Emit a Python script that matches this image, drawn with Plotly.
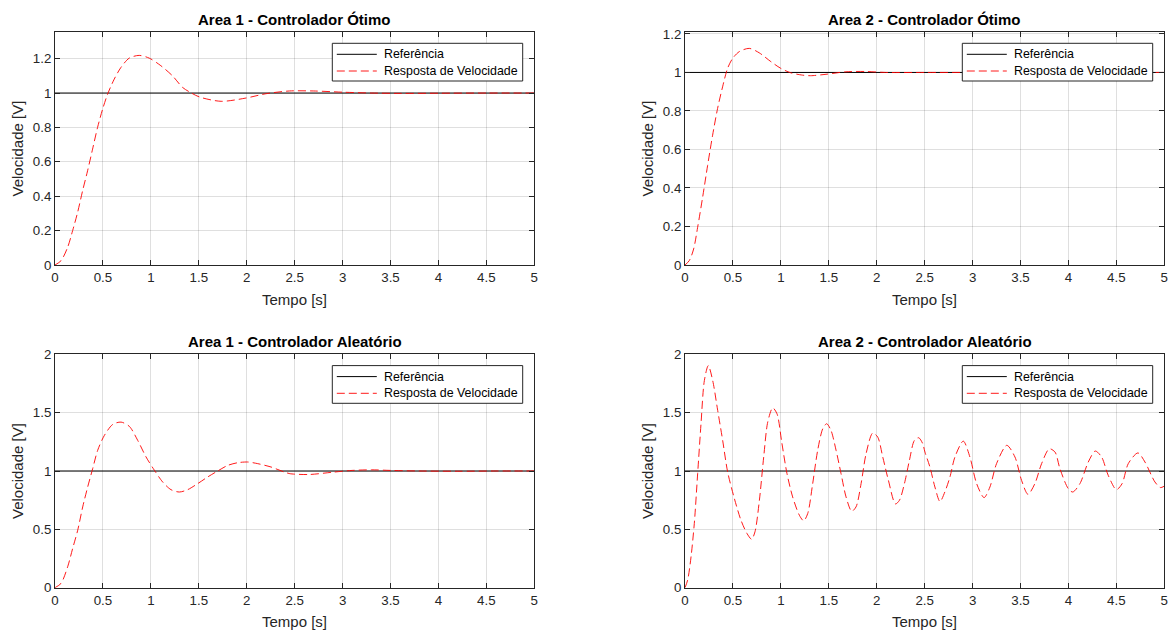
import plotly.graph_objects as go

# ---------------- data ----------------
# Step reference (constant 1 V)
ref_t = [0, 5]
ref_v = [1, 1]

# Area 1 - optimal controller
a1_opt_t = [0, 0.063, 0.132, 0.184, 0.236, 0.288, 0.34, 0.392, 0.444, 0.497, 0.549,
            0.618, 0.688, 0.774, 0.878, 0.983, 1.104, 1.226, 1.33, 1.404, 1.508,
            1.733, 1.993, 2.2, 2.444, 2.7, 3.0, 3.3, 3.6, 4.0, 4.5, 5.0]
a1_opt_v = [0, 0.025, 0.103, 0.2, 0.306, 0.432, 0.548, 0.674, 0.8, 0.907, 0.994,
            1.081, 1.149, 1.203, 1.219, 1.203, 1.159, 1.1, 1.033, 1.006, 0.977,
            0.952, 0.971, 0.996, 1.012, 1.012, 1.005, 1.0, 0.998, 0.999, 1.0, 1.0]

# Area 2 - optimal controller
a2_opt_t = [0, 0.045, 0.09, 0.132, 0.184, 0.236, 0.288, 0.34, 0.392, 0.444, 0.497,
            0.566, 0.67, 0.774, 0.896, 1.0, 1.104, 1.226, 1.31, 1.483, 1.67, 1.88,
            2.09, 2.5, 3.0, 3.5, 4.0, 4.5, 5.0]
a2_opt_v = [0, 0.023, 0.083, 0.196, 0.352, 0.517, 0.674, 0.813, 0.925, 1.021, 1.073,
            1.108, 1.125, 1.102, 1.056, 1.021, 0.998, 0.986, 0.983, 0.991, 1.003, 1.005,
            1.0, 1.0, 1.0, 1.0, 1.0, 1.0, 1.0]

# Area 1 - random controller
a1_rnd_t = [0, 0.063, 0.132, 0.184, 0.237, 0.289, 0.341, 0.393, 0.445, 0.515, 0.602,
            0.689, 0.776, 0.863, 0.95, 1.037, 1.123, 1.21, 1.297, 1.384, 1.489, 1.593,
            1.697, 1.802, 1.906, 2.01, 2.115, 2.254, 2.393, 2.45, 2.65, 2.9, 3.1, 3.3,
            3.5, 3.8, 4.2, 4.6, 5.0]
a1_rnd_v = [0, 0.037, 0.179, 0.336, 0.493, 0.692, 0.863, 1.02, 1.177, 1.305, 1.399,
            1.419, 1.382, 1.262, 1.12, 1.006, 0.906, 0.84, 0.82, 0.84, 0.892, 0.949,
            1.0, 1.048, 1.071, 1.077, 1.063, 1.034, 0.991, 0.977, 0.97, 0.99, 1.005, 1.01,
            1.005, 1.0, 0.998, 1.0, 1.0]

# Area 2 - random controller
a2_rnd_t = [0, 0.028, 0.063, 0.097, 0.132, 0.167, 0.202, 0.243, 0.289, 0.341, 0.393,
            0.445, 0.515, 0.584, 0.647, 0.695, 0.73, 0.776, 0.821, 0.863, 0.915, 0.96,
            1.009, 1.064, 1.123, 1.193, 1.238, 1.28, 1.332, 1.384, 1.437, 1.478, 1.523,
            1.576, 1.628, 1.68, 1.739, 1.784, 1.837, 1.889, 1.958, 2.01, 2.063, 2.122,
            2.195, 2.237, 2.289, 2.341, 2.393, 2.438, 2.48, 2.503, 2.555, 2.607, 2.66,
            2.711, 2.764, 2.816, 2.903, 2.972, 3.042, 3.12, 3.181, 3.25, 3.357, 3.442,
            3.511, 3.578, 3.65, 3.72, 3.8, 3.86, 3.911, 3.998, 4.045, 4.12, 4.207, 4.28,
            4.346, 4.415, 4.5, 4.56, 4.624, 4.725, 4.798, 4.902, 4.96, 5.0]
a2_rnd_v = [0, 0.066, 0.265, 0.55, 0.977, 1.405, 1.775, 1.903, 1.775, 1.519, 1.262,
            0.991, 0.764, 0.578, 0.464, 0.415, 0.479, 0.749, 1.12, 1.419, 1.541, 1.49,
            1.248, 0.977, 0.778, 0.621, 0.573, 0.635, 0.892, 1.177, 1.362, 1.405, 1.348,
            1.177, 0.977, 0.778, 0.655, 0.692, 0.892, 1.148, 1.325, 1.291, 1.12, 0.92,
            0.718, 0.749, 0.892, 1.091, 1.262, 1.285, 1.234, 1.162, 1.034, 0.863, 0.738,
            0.821, 0.949, 1.12, 1.256, 1.12, 0.892, 0.772, 0.863, 1.063, 1.22, 1.12,
            0.92, 0.8, 0.892, 1.063, 1.19, 1.162, 1.02, 0.849, 0.82, 0.892, 1.077, 1.171,
            1.12, 0.963, 0.84, 0.892, 1.063, 1.155, 1.077, 0.906, 0.858, 0.87]

titles = ["Area 1 - Controlador Ótimo", "Area 2 - Controlador Ótimo",
          "Area 1 - Controlador Aleatório", "Area 2 - Controlador Aleatório"]
x_label = "Tempo [s]"
y_label = "Velocidade [V]"
legend_names = ["Referência", "Resposta de Velocidade"]

x_ticks = [0, 0.5, 1, 1.5, 2, 2.5, 3, 3.5, 4, 4.5, 5]
y_ticks_top_left = [0, 0.2, 0.4, 0.6, 0.8, 1, 1.2]
y_ticks_top_right = [0, 0.2, 0.4, 0.6, 0.8, 1, 1.2]
y_ticks_bottom = [0, 0.5, 1, 1.5, 2]

# ---------------- layout helpers ----------------
W, H = 1169, 632
FONT = "Liberation Sans, Arial, sans-serif"
AXCOL = "#262626"
REF_LINE = dict(color="black", width=1)
RESP_LINE = dict(color="red", width=0.9, dash="8px,4px")


def px_x(x):
    return x / W


def px_y(y):
    return 1 - y / H


# axes boxes in pixels: (left, right, top, bottom)
boxes = [
    (55, 534.3, 32, 265),
    (685, 1164.3, 32, 265),
    (55, 534.3, 354.3, 587.7),
    (685, 1164.3, 354.3, 587.7),
]
y_ranges = [[0, 1.355], [0, 1.21], [0, 2], [0, 2]]
y_tick_sets = [y_ticks_top_left, y_ticks_top_right, y_ticks_bottom, y_ticks_bottom]
series = [(a1_opt_t, a1_opt_v), (a2_opt_t, a2_opt_v),
          (a1_rnd_t, a1_rnd_v), (a2_rnd_t, a2_rnd_v)]

fig = go.Figure()
annotations = []
shapes = []
layout = {}

for i in range(4):
    n = "" if i == 0 else str(i + 1)
    xa, ya = "x" + n, "y" + n
    t, v = series[i]
    fig.add_trace(go.Scatter(
        x=ref_t, y=ref_v, mode="lines", name=legend_names[0],
        line=REF_LINE, xaxis=xa, yaxis=ya, showlegend=False))
    fig.add_trace(go.Scatter(
        x=t, y=v, mode="lines", name=legend_names[1],
        line=dict(RESP_LINE, shape="spline", smoothing=0.8),
        xaxis=xa, yaxis=ya, showlegend=False))

    l, r, tp, b = boxes[i]
    common = dict(
        showline=True, linecolor=AXCOL, linewidth=1, mirror="ticks",
        ticks="inside", ticklen=5, tickwidth=1, tickcolor=AXCOL,
        showgrid=True, gridcolor="rgba(38,38,38,0.15)", gridwidth=1,
        zeroline=False, tickfont=dict(family=FONT, size=13.3, color=AXCOL),
        fixedrange=True, automargin=False,
    )
    layout["xaxis" + n] = dict(
        domain=[px_x(l), px_x(r)], range=[0, 5], anchor=ya,
        tickvals=x_ticks, ticktext=[f"{x:g}" for x in x_ticks], **common)
    layout["yaxis" + n] = dict(
        domain=[px_y(b), px_y(tp)], range=y_ranges[i], anchor=xa,
        tickvals=y_tick_sets[i], ticktext=[f"{y:g}" for y in y_tick_sets[i]], **common)

    # legend box in the upper-right corner of each axes
    bx1, by0 = r - 11.6, tp + 11.3
    bx0, by1 = bx1 - 190.4, by0 + 37.7
    shapes.append(dict(type="rect", xref="paper", yref="paper",
                       x0=px_x(bx0), x1=px_x(bx1), y0=px_y(by1), y1=px_y(by0),
                       fillcolor="white", line=dict(color=AXCOL, width=1), layer="above"))
    for k, (name, style) in enumerate(zip(legend_names, [REF_LINE, RESP_LINE])):
        ry = by0 + 11 + k * 16.7
        shapes.append(dict(type="line", xref="paper", yref="paper",
                           x0=px_x(bx0 + 4.5), x1=px_x(bx0 + 44.5),
                           y0=px_y(ry), y1=px_y(ry), line=style, layer="above"))
        annotations.append(dict(
            text=name, x=px_x(bx0 + 49.5), y=px_y(ry), xref="paper", yref="paper",
            xanchor="left", yanchor="middle", showarrow=False,
            font=dict(family=FONT, size=12.4, color="black")))

    cx = (l + r) / 2
    annotations.append(dict(
        text="<b>" + titles[i] + "</b>", x=px_x(cx), y=px_y(tp - 13), xref="paper", yref="paper",
        xanchor="center", yanchor="middle", showarrow=False,
        font=dict(family=FONT, size=15, color="black")))
    annotations.append(dict(
        text=x_label, x=px_x(cx), y=px_y(b + 34), xref="paper", yref="paper",
        xanchor="center", yanchor="middle", showarrow=False,
        font=dict(family=FONT, size=15, color=AXCOL)))
    annotations.append(dict(
        text=y_label, x=px_x(l - 38), y=px_y((tp + b) / 2), xref="paper", yref="paper",
        xanchor="center", yanchor="middle", showarrow=False, textangle=-90,
        font=dict(family=FONT, size=15, color=AXCOL)))

fig.update_layout(
    width=W, height=H,
    # fixed margins: nothing may push the plot areas away from their domains
    margin=dict(l=0, r=0, t=0, b=0, pad=0, autoexpand=False),
    paper_bgcolor="white", plot_bgcolor="white",
    showlegend=False, annotations=annotations, shapes=shapes, **layout,
)

fig.write_html("out.html")
